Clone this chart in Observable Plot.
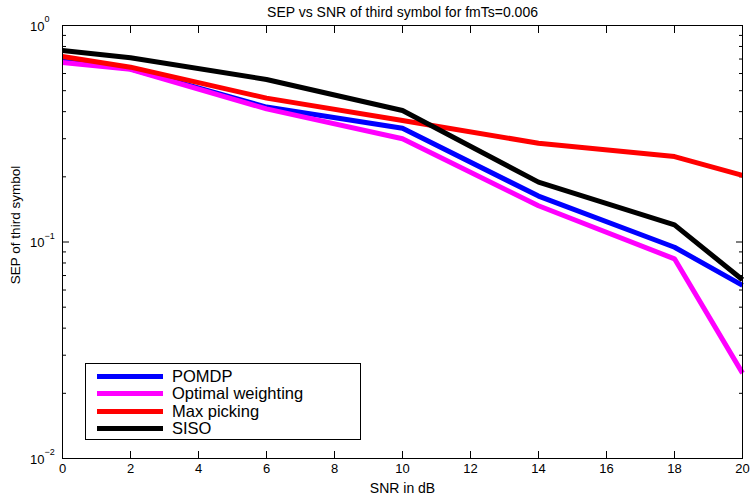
<!DOCTYPE html>
<html>
<head>
<meta charset="utf-8">
<script src="https://cdn.jsdelivr.net/npm/d3@7"></script>
<script src="https://cdn.jsdelivr.net/npm/@observablehq/plot@0.6"></script>
<style>
  html, body { margin: 0; padding: 0; background: #fff; }
  #wrap { position: relative; width: 753px; height: 495px; font-family: "Liberation Sans", Arial, sans-serif; }
  #legend { position: absolute; left: 85px; top: 363px; width: 274px; height: 75px; border: 1px solid #000; background: #fff; box-sizing: content-box; }
  .row { position: absolute; left: 0; height: 18px; display: flex; align-items: center; }
  .sw { width: 66px; height: 5px; margin-left: 11px; margin-right: 9px; }
  .lab { font-size: 16.5px; color: #000; white-space: nowrap; }
</style>
</head>
<body>
<div id="wrap"></div>
<script>
// ---- data ----
const snr = [0, 2, 6, 10, 14, 18, 20];
const seriesNames = ["POMDP", "Optimal weighting", "Max picking", "SISO"];
const seriesColors = ["#0000ff", "#ff00ff", "#ff0000", "#000000"];
const pomdp      = [0.690, 0.631, 0.420, 0.335, 0.163, 0.0946, 0.0630];
const optimal    = [0.675, 0.628, 0.412, 0.300, 0.147, 0.0836, 0.0248];
const maxPicking = [0.719, 0.642, 0.462, 0.364, 0.286, 0.248, 0.203];
const siso       = [0.766, 0.709, 0.563, 0.405, 0.189, 0.120, 0.0669];
const xTicks = [0, 2, 4, 6, 8, 10, 12, 14, 16, 18, 20];
const yMajor = [0.01, 0.1, 1];
const yExponents = ["\u22122", "\u22121", "0"];
const yMinor = [0.02,0.03,0.04,0.05,0.06,0.07,0.08,0.09,0.2,0.3,0.4,0.5,0.6,0.7,0.8,0.9];
const titleText = "SEP vs SNR of third symbol for fmTs=0.006";
const xLabel = "SNR in dB";
const yLabel = "SEP of third symbol";

const allSeries = [pomdp, optimal, maxPicking, siso];
const rows = [];
allSeries.forEach((vals, i) => vals.forEach((v, j) => rows.push({series: seriesNames[i], snr: snr[j], sep: v})));
const majors = yMajor.map((v, i) => ({v, e: yExponents[i]}));

const font = "Liberation Sans, Arial, sans-serif";
const blank = () => "";
const tk = {stroke: "#000", strokeWidth: 1, tickFormat: blank, label: null};
const chart = Plot.plot({
  width: 753,
  height: 495,
  marginLeft: 62,
  marginRight: 11,
  marginTop: 25,
  marginBottom: 37,
  style: {fontFamily: font, background: "#fff", color: "#000"},
  x: {domain: [0, 20]},
  y: {type: "log", domain: [0.01, 1]},
  color: {domain: seriesNames, range: seriesColors},
  marks: [
    // tick labels (no tick marks)
    Plot.axisX({anchor: "bottom", ticks: xTicks, tickSize: 0, tickPadding: 5, fontSize: 13, label: null, tickFormat: d => String(d)}),
    // inward tick marks
    Plot.axisX({anchor: "bottom", ticks: xTicks, tickSize: -7, ...tk}),
    Plot.axisX({anchor: "top", ticks: xTicks, tickSize: -7, ...tk}),
    Plot.axisY({anchor: "left", ticks: yMajor, tickSize: -7, ...tk}),
    Plot.axisY({anchor: "right", ticks: yMajor, tickSize: -7, ...tk}),
    Plot.axisY({anchor: "left", ticks: yMinor, tickSize: -4, ...tk}),
    Plot.axisY({anchor: "right", ticks: yMinor, tickSize: -4, ...tk}),
    Plot.text(majors, {y: "v", text: () => "10", frameAnchor: "left", textAnchor: "end", dx: -18, dy: 1, fontSize: 13}),
    Plot.text(majors, {y: "v", text: "e", frameAnchor: "left", textAnchor: "start", dx: -18, dy: -6, fontSize: 9}),
    Plot.line(rows, {x: "snr", y: "sep", z: "series", stroke: "series", strokeWidth: 5, strokeLinejoin: "miter", strokeLinecap: "butt"}),
    Plot.frame({stroke: "#000", strokeWidth: 1}),
    Plot.text([titleText], {text: d => d, frameAnchor: "top", textAnchor: "middle", dy: -18, fontSize: 14}),
    Plot.text([xLabel], {text: d => d, frameAnchor: "bottom", textAnchor: "middle", dy: 34, fontSize: 14}),
    Plot.text([yLabel], {text: d => d, frameAnchor: "left", textAnchor: "middle", rotate: -90, dx: -47, dy: -17, fontSize: 13.5})
  ]
});
const wrap = document.getElementById("wrap");
wrap.appendChild(chart);

// legend
const legend = document.createElement("div");
legend.id = "legend";
seriesNames.forEach((name, i) => {
  const row = document.createElement("div");
  row.className = "row";
  row.style.top = (3 + i * 17.6) + "px";
  const sw = document.createElement("div");
  sw.className = "sw";
  sw.style.background = seriesColors[i];
  const lab = document.createElement("span");
  lab.className = "lab";
  lab.textContent = name;
  row.appendChild(sw);
  row.appendChild(lab);
  legend.appendChild(row);
});
wrap.appendChild(legend);
</script>
</body>
</html>
